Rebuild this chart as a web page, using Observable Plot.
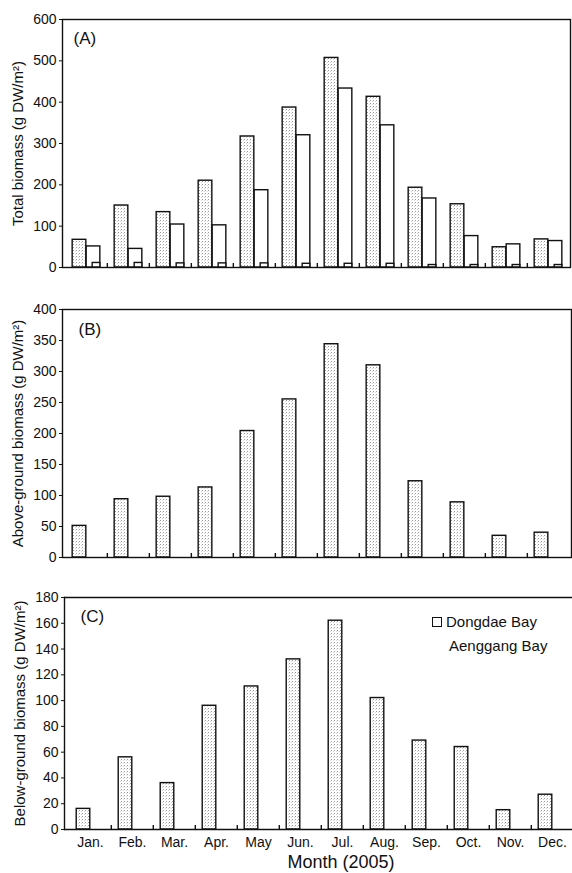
<!DOCTYPE html>
<html><head><meta charset="utf-8">
<script src="https://cdn.jsdelivr.net/npm/d3@7"></script>
<script src="https://cdn.jsdelivr.net/npm/@observablehq/plot@0.6"></script>
<style>
html,body{margin:0;padding:0;background:#fff;}
#wrap{position:relative;width:572px;height:873px;font-family:"Liberation Sans",Arial,Helvetica,sans-serif;color:#111;}
#wrap svg{display:block;}
.ov{position:absolute;white-space:nowrap;line-height:1;}
</style></head><body>
<div id="wrap"></div>
<script>
const months = ["Jan.","Feb.","Mar.","Apr.","May","Jun.","Jul.","Aug.","Sep.","Oct.","Nov.","Dec."];
// (A) Total biomass
const totalDongdae  = [67,150,134,210,317,387,507,413,193,153,49,68];
const totalAenggang = [51,45,104,102,187,320,433,344,167,76,56,64];
const totalMinor    = [11,11,10,10,10,9,9,9,6,6,6,6];
// (B) Above-ground biomass
const aboveDongdae  = [51,94,98,113,204,255,344,310,123,89,35,40];
// (C) Below-ground biomass
const belowDongdae  = [16,56,36,96,111,132,162,102,69,64,15,27];

const yTicksA = d3.range(0, 601, 100);
const yTicksB = d3.range(0, 401, 50);
const yTicksC = d3.range(0, 181, 20);

const ink = "#111";
const font = "'Liberation Sans', Arial, Helvetica, sans-serif";
const wrap = document.getElementById("wrap");

function addPattern(svg, id) {
  const ns = "http://www.w3.org/2000/svg";
  const defs = document.createElementNS(ns, "defs");
  defs.innerHTML = `<pattern id="${id}" width="3" height="3" patternUnits="userSpaceOnUse">
    <rect width="3" height="3" fill="#fff"/><rect x="1" y="1" width="1" height="1" fill="#9a9a9a"/>
    <rect x="0" y="2" width="1" height="1" fill="#d6d6d6"/></pattern>`;
  svg.insertBefore(defs, svg.firstChild);
}

function panel({rows, series, height, mt, mb, ml, mr, xRange, yMax, yTicks, ylabel, tag, tagDx, tagDy, pid, full, showX}) {
  const bw = (xRange[1] - xRange[0]) / 12;
  const marks = [];
  series.forEach(s => {
    marks.push(Plot.barY(rows, {
      x: "month", y: s.key,
      fill: s.fill === "stip" ? `url(#${pid})` : "white",
      stroke: ink, strokeWidth: 1.4,
      insetLeft: bw / 2 + s.l, insetRight: bw / 2 - s.r
    }));
  });
  marks.push(Plot.ruleX(months.slice(1), {x: d => d, y1: 0, y2: 0, insetTop: -4, dx: -bw / 2, stroke: ink, strokeWidth: 1.4}));
  if (full) {
    marks.push(Plot.frame({stroke: ink, strokeWidth: 1.4}));
  } else {
    marks.push(Plot.ruleY([0, yMax], {stroke: ink, strokeWidth: 1.4}));
    marks.push(Plot.frame({anchor: "left", stroke: ink, strokeWidth: 1.4}));
  }
  marks.push(Plot.axisY({ticks: yTicks, tickSize: 3, tickPadding: 3, fontSize: 14, label: null, stroke: ink}));
  if (showX) marks.push(Plot.axisX({tickSize: 0, tickPadding: 8, fontSize: 14, label: null}));
  marks.push(Plot.text([ylabel], {frameAnchor: "left", rotate: -90, dx: -44, fontSize: 15, textAnchor: "middle", lineAnchor: "middle", fill: ink}));
  marks.push(Plot.text([tag], {frameAnchor: "top-left", dx: tagDx, dy: tagDy, fontSize: 17, textAnchor: "start", lineAnchor: "top", fill: ink}));
  const svg = Plot.plot({
    width: 572, height,
    marginTop: mt, marginBottom: mb, marginLeft: ml, marginRight: mr,
    style: {fontFamily: font, fontSize: "14px", color: ink, background: "white", overflow: "visible"},
    x: {type: "band", domain: months, range: xRange, padding: 0, axis: null},
    y: {domain: [0, yMax], axis: null},
    marks
  });
  addPattern(svg, pid);
  wrap.appendChild(svg);
}

const rowsA = months.map((m, i) => ({month: m, dongdae: totalDongdae[i], aenggang: totalAenggang[i], minor: totalMinor[i]}));
const rowsB = months.map((m, i) => ({month: m, dongdae: aboveDongdae[i]}));
const rowsC = months.map((m, i) => ({month: m, dongdae: belowDongdae[i]}));

// series placement relative to band centre (offsets l..r in px)
const sD = {key: "dongdae", fill: "stip", l: -14, r: 0};
const sA = {key: "aenggang", fill: "white", l: 0, r: 14};
const sM = {key: "minor", fill: "white", l: 6, r: 14};

panel({rows: rowsA, series: [sD, sA, sM], height: 288, mt: 19, mb: 21, ml: 62, mr: 2,
  xRange: [63, 571], yMax: 600, yTicks: yTicksA, ylabel: "Total biomass (g DW/m²)",
  tag: "(A)", tagDx: 11, tagDy: 12, pid: "stipA", full: true, showX: false});
panel({rows: rowsB, series: [sD], height: 290, mt: 21, mb: 21, ml: 62, mr: 1,
  xRange: [63, 571], yMax: 400, yTicks: yTicksB, ylabel: "Above-ground biomass (g DW/m²)",
  tag: "(B)", tagDx: 16, tagDy: 13, pid: "stipB", full: true, showX: false});
panel({rows: rowsC, series: [sD], height: 295, mt: 19, mb: 44, ml: 64, mr: 0,
  xRange: [66, 575], yMax: 180, yTicks: yTicksC, ylabel: "Below-ground biomass (g DW/m²)",
  tag: "(C)", tagDx: 16, tagDy: 12, pid: "stipC", full: false, showX: true});

// legend + x title overlays
const legendNames = ["Dongdae Bay", "Aenggang Bay"];
function ov(html, css) { const d = document.createElement("div"); d.className = "ov"; d.innerHTML = html; Object.assign(d.style, css); wrap.appendChild(d); return d; }
ov("", {left: "432px", top: "617px", width: "8px", height: "8px", border: "1.3px solid #111"});
ov(legendNames[0], {left: "446px", top: "614px", fontSize: "15px"});
ov(legendNames[1], {left: "449px", top: "638px", fontSize: "15px"});
ov("Month (2005)", {left: "341px", top: "853px", fontSize: "18px", transform: "translateX(-50%)"});
</script>
</body></html>
